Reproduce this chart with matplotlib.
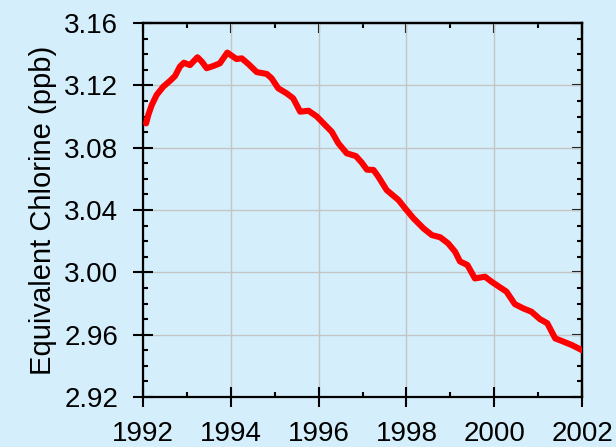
import matplotlib
matplotlib.use("Agg")
import matplotlib.pyplot as plt
from matplotlib.ticker import MultipleLocator, FormatStrFormatter

plt.rcParams['font.family'] = ['Liberation Sans', 'DejaVu Sans']

years = [1992.07, 1992.12, 1992.20, 1992.31, 1992.46, 1992.62, 1992.73, 1992.84,
         1992.93, 1993.07, 1993.24, 1993.34, 1993.45, 1993.60, 1993.75, 1993.92,
         1994.13, 1994.25, 1994.40, 1994.59, 1994.82, 1994.93, 1995.08, 1995.27,
         1995.42, 1995.58, 1995.77, 1995.96, 1996.15, 1996.30, 1996.45, 1996.64,
         1996.85, 1996.98, 1997.10, 1997.25, 1997.36, 1997.55, 1997.82, 1997.97,
         1998.16, 1998.39, 1998.58, 1998.77, 1998.95, 1999.11, 1999.22, 1999.39,
         1999.56, 1999.79, 1999.94, 2000.13, 2000.28, 2000.47, 2000.66, 2000.85,
         2001.04, 2001.21, 2001.39, 2001.58, 2001.77, 2001.92, 2002.00]
chlorine = [3.0956, 3.1010, 3.1074, 3.1138, 3.1191, 3.1230, 3.1260, 3.1320,
            3.1345, 3.1330, 3.1380, 3.1352, 3.1310, 3.1324, 3.1341, 3.1410,
            3.1369, 3.1373, 3.1337, 3.1285, 3.1273, 3.1245, 3.1181, 3.1149,
            3.1117, 3.1031, 3.1037, 3.1000, 3.0945, 3.0902, 3.0828, 3.0764,
            3.0746, 3.0705, 3.0659, 3.0657, 3.0614, 3.0528, 3.0464, 3.0411,
            3.0347, 3.0282, 3.0239, 3.0225, 3.0186, 3.0132, 3.0070, 3.0047,
            2.9961, 2.9972, 2.9940, 2.9904, 2.9876, 2.9796, 2.9769, 2.9747,
            2.9700, 2.9673, 2.9576, 2.9555, 2.9533, 2.9512, 2.9500]

bg = '#d4effb'
fig = plt.figure(figsize=(6.16, 4.47), dpi=100, facecolor=bg)
ax = fig.add_axes([143/616, 1-397/447, (582-143)/616, (397-23)/447])
ax.set_facecolor(bg)

ax.plot(years, chlorine, color='#ff0000', lw=4.4, solid_joinstyle='round',
        solid_capstyle='round', zorder=3)

ax.set_xlim(1992, 2002)
ax.set_ylim(2.92, 3.16)
ax.xaxis.set_major_locator(MultipleLocator(2))
ax.xaxis.set_minor_locator(MultipleLocator(1))
ax.yaxis.set_major_locator(MultipleLocator(0.04))
ax.yaxis.set_minor_locator(MultipleLocator(0.01))
ax.yaxis.set_major_formatter(FormatStrFormatter('%.2f'))

ax.grid(True, which='major', color='#c4c4c4', lw=1.0, zorder=0)

for s in ax.spines.values():
    s.set_linewidth(1.6)
    s.set_color('black')

ax.tick_params(which='major', direction='inout', length=14, width=1.5,
               labelsize=20, colors='black')
ax.tick_params(which='minor', direction='in', length=3.8, width=1.5)
ax.tick_params(axis='x', which='major', pad=10)
ax.tick_params(axis='y', which='major', pad=11)

# top and right ticks (inward only, no labels)
top = ax.secondary_xaxis('top')
top.xaxis.set_major_locator(MultipleLocator(2))
top.xaxis.set_minor_locator(MultipleLocator(1))
top.tick_params(which='major', direction='in', length=7, width=1.5, labeltop=False)
top.tick_params(which='minor', direction='in', length=3.8, width=1.5)
top.spines['top'].set_linewidth(1.6)
right = ax.secondary_yaxis('right')
right.yaxis.set_major_locator(MultipleLocator(0.04))
right.yaxis.set_minor_locator(MultipleLocator(0.01))
right.tick_params(which='major', direction='in', length=7, width=1.5, labelright=False)
right.tick_params(which='minor', direction='in', length=3.8, width=1.5)
right.spines['right'].set_linewidth(1.6)

ax.set_ylabel('Equivalent Chlorine (ppb)', fontsize=21, labelpad=5)

fig.savefig('out.png', dpi=100, facecolor=bg)
